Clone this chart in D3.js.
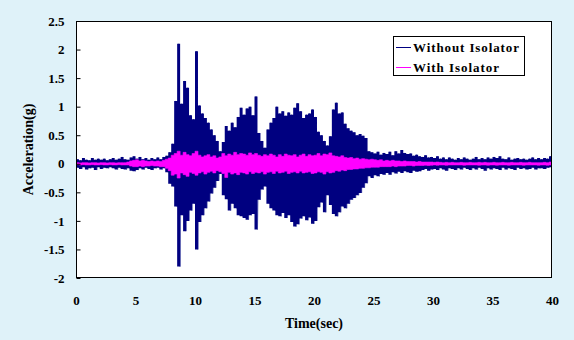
<!DOCTYPE html>
<html><head><meta charset="utf-8">
<script src="https://cdn.jsdelivr.net/npm/d3@7"></script>
<style>
html,body{margin:0;padding:0;background:#DFF2F9;}
svg{display:block;}
text{font-family:"Liberation Serif","Times New Roman",serif;font-weight:bold;fill:#000;}
</style></head><body>
<svg id="chart" width="574" height="340"></svg>
<script>
// Window length (s) of each envelope sample
const windowSec = 0.25;
const xTicks = [0,5,10,15,20,25,30,35,40];
const yTicks = [-2,-1.5,-1,-0.5,0,0.5,1,1.5,2,2.5];
const seriesNames = ["Without Isolator","With Isolator"];

// Without Isolator: peak (max) per 0.25 s window, 0-40 s
const withoutMax = [
0.08,0.06,0.10,0.07, 0.06,0.10,0.07,0.09, 0.07,0.09,0.06,0.08, 0.10,0.07,0.09,0.12,
0.08,0.07,0.11,0.13, 0.09,0.12,0.08,0.10, 0.07,0.10,0.08,0.11, 0.08,0.12,0.14,0.20,
0.35,1.10,2.10,1.05, 1.45,1.33,0.85,0.78, 1.97,1.02,0.88,0.80, 0.72,0.60,0.50,0.40,
0.22,0.38,0.66,0.58, 0.72,0.64,0.82,0.98, 0.86,0.97,1.00,0.85, 1.18,0.54,0.40,0.28,
0.60,0.72,0.80,1.00, 0.88,0.92,0.84,0.90, 0.86,0.98,1.06,0.92, 0.80,0.86,0.88,0.95,
0.82,0.56,0.50,0.40, 0.32,0.48,0.95,1.07, 0.88,0.90,0.70,0.62, 0.58,0.55,0.50,0.52,
0.49,0.45,0.22,0.20, 0.18,0.21,0.16,0.19, 0.17,0.21,0.15,0.22, 0.18,0.24,0.19,0.17,
0.18,0.14,0.16,0.13, 0.12,0.15,0.11,0.12, 0.10,0.13,0.09,0.11, 0.08,0.11,0.09,0.07,
0.10,0.08,0.11,0.09, 0.07,0.09,0.12,0.08, 0.10,0.08,0.11,0.09, 0.12,0.10,0.13,0.09,
0.08,0.11,0.07,0.09, 0.10,0.08,0.09,0.07, 0.09,0.11,0.08,0.10, 0.08,0.10,0.09,0.13];
// Without Isolator: trough (min) per 0.25 s window
const withoutMin = [
-0.07,-0.09,-0.06,-0.10, -0.08,-0.07,-0.11,-0.06, -0.09,-0.07,-0.08,-0.06, -0.08,-0.10,-0.07,-0.09,
-0.10,-0.08,-0.12,-0.13, -0.11,-0.08,-0.10,-0.07, -0.09,-0.11,-0.08,-0.07, -0.10,-0.08,-0.15,-0.35,
-0.40,-0.75,-1.80,-0.90, -1.18,-1.00,-0.82,-0.70, -1.50,-1.02,-0.90,-0.78, -0.66,-0.52,-0.42,-0.30,
-0.18,-0.55,-0.62,-0.82, -0.70,-0.78,-0.90,-0.92, -0.95,-0.98,-0.90,-0.88, -1.15,-0.63,-0.45,-0.40,
-0.70,-0.78,-0.82,-0.90, -0.92,-0.86,-0.95,-0.90, -1.02,-1.10,-1.06,-0.96, -0.92,-0.99,-0.94,-1.05,
-1.00,-0.76,-0.68,-0.85, -0.55,-0.72,-0.88,-0.92, -0.85,-0.75,-0.78,-0.70, -0.63,-0.60,-0.55,-0.51,
-0.42,-0.34,-0.22,-0.25, -0.20,-0.22,-0.18,-0.19, -0.16,-0.19,-0.15,-0.17, -0.14,-0.16,-0.13,-0.15,
-0.16,-0.12,-0.14,-0.13, -0.11,-0.09,-0.12,-0.10, -0.09,-0.11,-0.08,-0.10, -0.12,-0.08,-0.09,-0.11,
-0.08,-0.10,-0.07,-0.09, -0.11,-0.08,-0.10,-0.07, -0.09,-0.12,-0.08,-0.10, -0.08,-0.09,-0.11,-0.07,
-0.10,-0.08,-0.09,-0.11, -0.07,-0.09,-0.08,-0.10, -0.09,-0.07,-0.10,-0.08, -0.08,-0.09,-0.07,-0.06];
// With Isolator: peak (max) per 0.25 s window
const withMax = [
0.02,0.015,0.02,0.02, 0.015,0.02,0.02,0.015, 0.02,0.02,0.015,0.02, 0.02,0.015,0.02,0.02,
0.02,0.03,0.05,0.06, 0.07,0.05,0.06,0.05, 0.04,0.05,0.04,0.05, 0.04,0.06,0.08,0.10,
0.15,0.18,0.22,0.15, 0.20,0.16,0.14,0.18, 0.22,0.15,0.12,0.14, 0.16,0.12,0.14,0.10,
0.12,0.18,0.14,0.17, 0.15,0.20,0.16,0.18, 0.17,0.15,0.19,0.16, 0.18,0.15,0.13,0.16,
0.14,0.17,0.15,0.12, 0.16,0.13,0.17,0.15, 0.14,0.16,0.12,0.15, 0.17,0.13,0.16,0.14,
0.15,0.18,0.14,0.17, 0.16,0.19,0.14,0.13, 0.12,0.14,0.11,0.10, 0.11,0.09,0.10,0.08,
0.09,0.08,0.07,0.08, 0.07,0.06,0.07,0.05, 0.06,0.05,0.06,0.05, 0.05,0.04,0.05,0.04,
0.04,0.04,0.03,0.04, 0.03,0.03,0.03,0.03, 0.025,0.03,0.025,0.02, 0.025,0.02,0.025,0.02,
0.02,0.025,0.02,0.02, 0.025,0.02,0.02,0.025, 0.02,0.025,0.02,0.02, 0.025,0.02,0.02,0.025,
0.02,0.02,0.025,0.02, 0.02,0.025,0.02,0.02, 0.025,0.02,0.02,0.02, 0.02,0.025,0.02,0.03];
// With Isolator: trough (min) per 0.25 s window
const withMin = [
-0.015,-0.02,-0.015,-0.02, -0.02,-0.015,-0.02,-0.02, -0.015,-0.02,-0.02,-0.015, -0.02,-0.02,-0.015,-0.02,
-0.02,-0.02,-0.04,-0.05, -0.05,-0.04,-0.05,-0.04, -0.04,-0.03,-0.04,-0.04, -0.05,-0.05,-0.08,-0.12,
-0.20,-0.18,-0.25,-0.16, -0.19,-0.22,-0.15,-0.17, -0.20,-0.16,-0.14,-0.18, -0.15,-0.13,-0.16,-0.12,
-0.14,-0.17,-0.24,-0.15, -0.18,-0.16,-0.19,-0.15, -0.16,-0.18,-0.14,-0.17, -0.15,-0.16,-0.14,-0.18,
-0.15,-0.14,-0.17,-0.13, -0.16,-0.15,-0.13,-0.17, -0.15,-0.14,-0.16,-0.13, -0.16,-0.15,-0.14,-0.17,
-0.16,-0.14,-0.15,-0.18, -0.14,-0.16,-0.15,-0.12, -0.13,-0.11,-0.12,-0.10, -0.10,-0.09,-0.09,-0.08,
-0.08,-0.07,-0.07,-0.06, -0.06,-0.06,-0.05,-0.05, -0.05,-0.05,-0.04,-0.05, -0.04,-0.04,-0.04,-0.03,
-0.03,-0.04,-0.03,-0.03, -0.03,-0.025,-0.03,-0.025, -0.02,-0.025,-0.02,-0.02, -0.025,-0.02,-0.02,-0.02,
-0.02,-0.02,-0.025,-0.02, -0.02,-0.02,-0.02,-0.025, -0.02,-0.02,-0.025,-0.02, -0.02,-0.025,-0.02,-0.02,
-0.02,-0.025,-0.02,-0.02, -0.02,-0.02,-0.025,-0.02, -0.02,-0.02,-0.02,-0.025, -0.02,-0.02,-0.025,-0.02];

const svg = d3.select("#chart");
const M = {left:76, right:552, top:21, bottom:278};
const x = d3.scaleLinear().domain([0,40]).range([M.left, M.right]);
const y = d3.scaleLinear().domain([-2,2.5]).range([M.bottom, M.top]);

svg.append("rect").attr("x",M.left).attr("y",M.top)
  .attr("width",M.right-M.left).attr("height",M.bottom-M.top).attr("fill","#fff");

// Min/max envelope per window, drawn as a stepped band
function rows(maxArr, minArr){
  const r = maxArr.map((v,i)=>({t: i*windowSec, hi: v, lo: minArr[i]}));
  r.push({t: maxArr.length*windowSec, hi: maxArr[maxArr.length-1], lo: minArr[minArr.length-1]});
  return r;
}
const band = d3.area().x(d=>x(d.t)).y0(d=>y(d.lo)).y1(d=>y(d.hi)).curve(d3.curveStepAfter);
// Thin trace joining peaks and troughs (anti-aliased fringe)
function zigPoints(maxArr, minArr){
  const pts=[];
  maxArr.forEach((v,i)=>{
    pts.push([i*windowSec + windowSec*0.5, v]);
    pts.push([i*windowSec + windowSec, minArr[i]]);
  });
  return pts;
}
const zig = d3.line().x(d=>x(d[0])).y(d=>y(d[1]));

svg.append("clipPath").attr("id","pc").append("rect")
  .attr("x",M.left).attr("y",M.top).attr("width",M.right-M.left).attr("height",M.bottom-M.top);
const g = svg.append("g").attr("clip-path","url(#pc)");

g.append("path").datum(zigPoints(withoutMax, withoutMin))
  .attr("d",zig).attr("fill","none").attr("stroke","#6A70B8").attr("stroke-width",1);
g.append("path").datum(rows(withoutMax, withoutMin))
  .attr("d",band).attr("fill","#000080").attr("stroke","none");
g.append("path").datum(rows(withMax, withMin))
  .attr("d",band).attr("fill","#FF00FF").attr("stroke","#FF00FF").attr("stroke-width",0.6);

// Frame
svg.append("rect").attr("x",M.left+0.5).attr("y",M.top+0.5)
  .attr("width",M.right-M.left-1).attr("height",M.bottom-M.top-1)
  .attr("fill","none").attr("stroke","#000").attr("stroke-width",1);

// Y axis (inward ticks)
const yAxis = d3.axisLeft(y).tickValues(yTicks).tickSize(-4).tickPadding(12)
  .tickFormat(d=>String(d));
const ya = svg.append("g").attr("transform",`translate(${M.left+0.5},0)`).call(yAxis);
ya.select(".domain").remove();
ya.selectAll("line").attr("stroke","#000");
ya.selectAll("text").attr("font-size",13);

// X axis
const xAxis = d3.axisBottom(x).tickValues(xTicks).tickSize(0).tickPadding(18);
const xa = svg.append("g").attr("transform",`translate(0,${M.bottom})`).call(xAxis);
xa.select(".domain").remove();
xa.selectAll("text").attr("font-size",13);

// Axis titles
svg.append("text").attr("x",(M.left+M.right)/2).attr("y",328)
  .attr("text-anchor","middle").attr("font-size",14).text("Time(sec)");
svg.append("text").attr("transform",`translate(33,${(M.top+M.bottom)/2}) rotate(-90)`)
  .attr("text-anchor","middle").attr("font-size",14).text("Acceleration(g)");

// Legend
const lg = svg.append("g");
lg.append("rect").attr("x",393.5).attr("y",36.5).attr("width",131).attr("height",39)
  .attr("fill","#fff").attr("stroke","#000").attr("stroke-width",1);
const colors = ["#000080","#FF00FF"];
const legendWidths = [106, 86];
seriesNames.forEach((n,i)=>{
  const yy = 47 + i*20;
  lg.append("line").attr("x1",396).attr("x2",411).attr("y1",yy+0.5).attr("y2",yy+0.5)
    .attr("stroke",colors[i]).attr("stroke-width",1);
  lg.append("text").attr("x",413).attr("y",yy+5).attr("font-size",13)
    .attr("textLength",legendWidths[i]).attr("lengthAdjust","spacing").text(n);
});
</script>
</body></html>
